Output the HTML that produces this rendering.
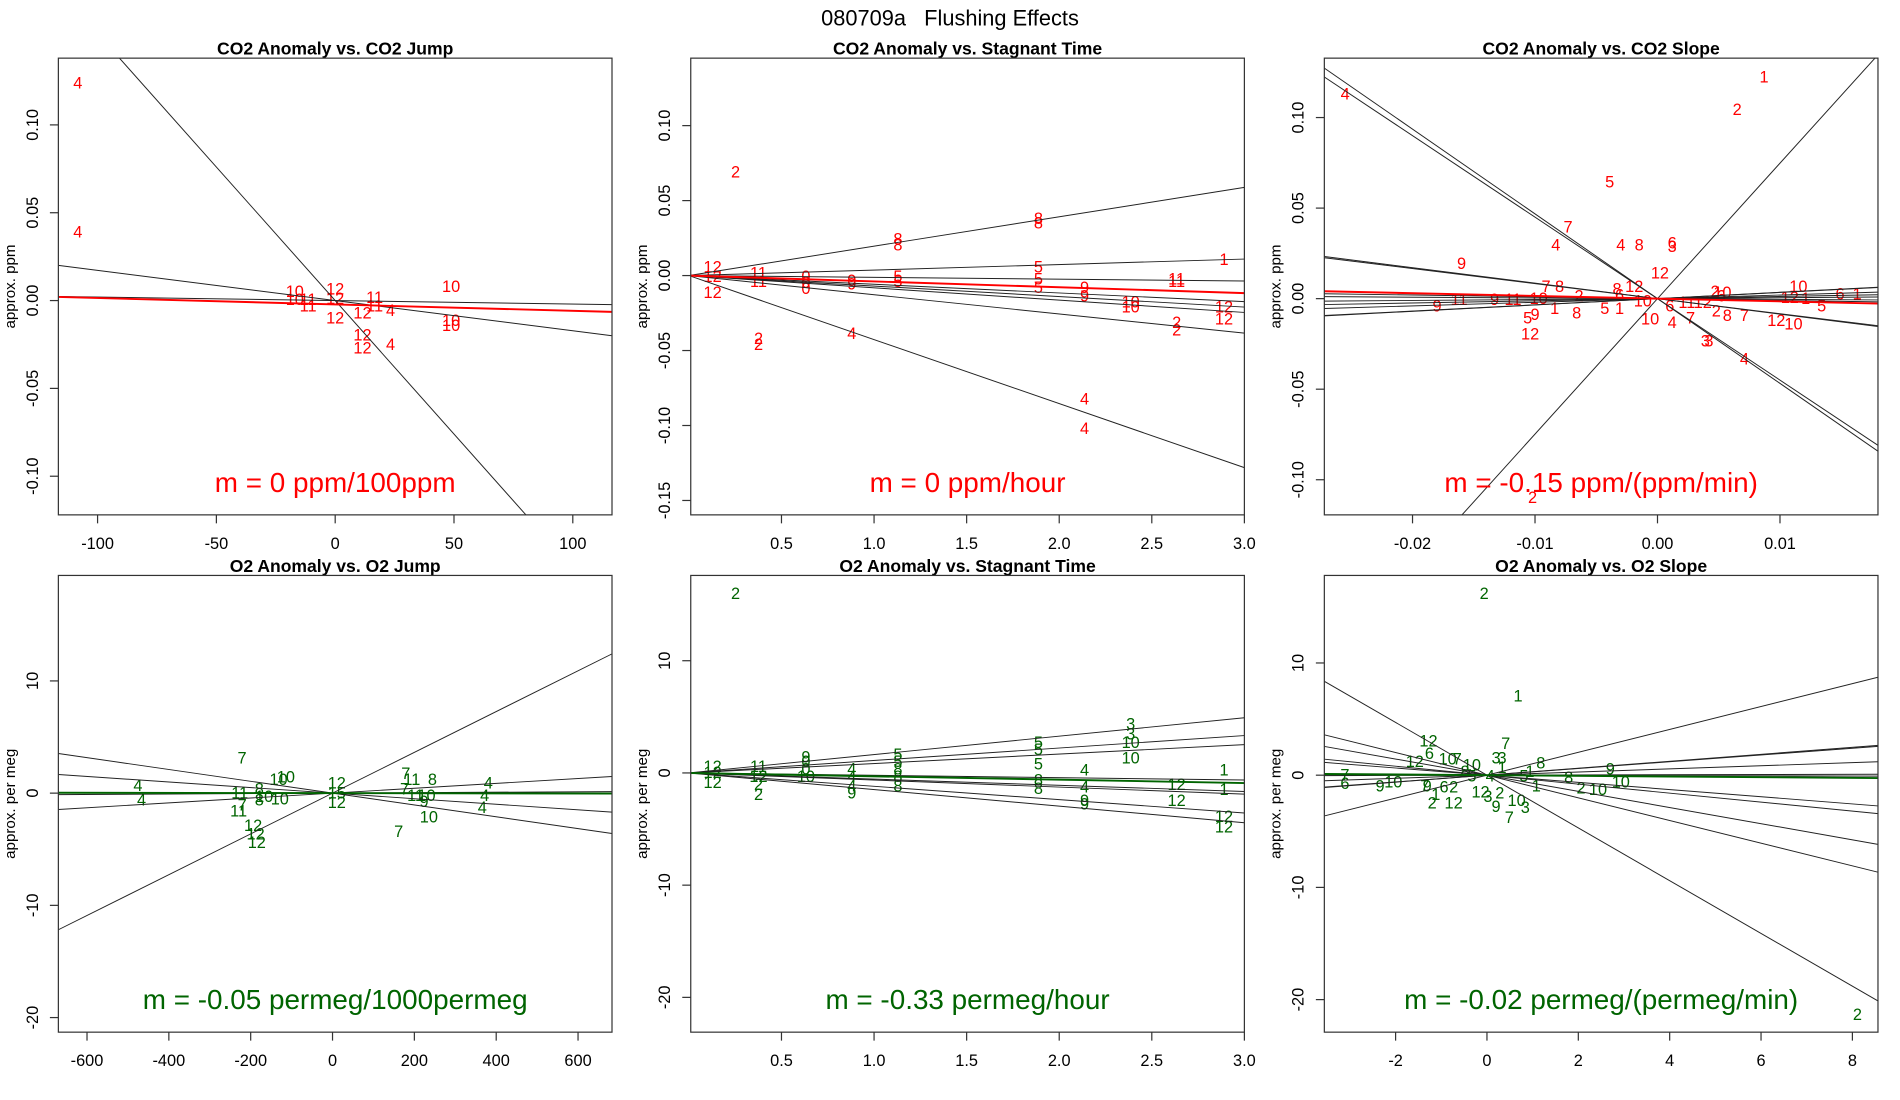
<!DOCTYPE html>
<html><head><meta charset="utf-8"><style>
html,body{margin:0;padding:0;background:#fff;}
svg{display:block;font-family:"Liberation Sans",sans-serif;}
</style></head><body>
<svg id="fig" width="1900" height="1100" viewBox="0 0 1568 908" xmlns="http://www.w3.org/2000/svg">
<rect width="1568" height="908" fill="#fff"/>
<text x="784" y="21" text-anchor="middle" font-size="18" style="white-space:pre">080709a   Flushing Effects</text>
</svg>
<script>
// ---------- Panel 1: CO2 anomaly vs CO2 jump ----------
const p1X=[-108.3,-108.3,-17,-17,-11.4,-11.4,0,0,0,16.6,16.6,11.5,11.5,11.5,23.3,23.3,48.8,48.8,48.8];
const p1Y=[0.1242,0.0394,0.0056,0.0008,0.0008,-0.0027,0.007,0.0015,-0.0096,0.0021,-0.0027,-0.0068,-0.0193,-0.0268,-0.0054,-0.0248,0.0083,-0.011,-0.0138];
const p1Lab=["4","4","10","10","11","11","12","12","12","11","11","12","12","12","4","4","10","10","10"];
const p1Slopes=[-0.00152,-0.000172,-0.00002];
const p1Fit=[-0.0022,-0.0000365];
const p1XTicks=[-100,-50,0,50,100];
const p1YTicks=[-0.10,-0.05,0.00,0.05,0.10];
const p1YTickLab=["-0.10","-0.05","0.00","0.05","0.10"];
// ---------- Panel 2: CO2 anomaly vs stagnant time ----------
const p2X=[0.252,0.128,0.128,0.128,0.376,0.376,0.376,0.376,0.632,0.632,0.632,0.88,0.88,0.88,1.129,1.129,1.129,1.129,1.888,1.888,1.888,1.888,1.888,2.137,2.137,2.137,2.137,2.386,2.386,2.634,2.634,2.89,2.634,2.634,2.89,2.89];
const p2Y=[0.0693,0.0061,-0.0003,-0.0108,-0.0416,-0.0456,0.0021,-0.0036,-0.0003,-0.0044,-0.0084,-0.0028,-0.0052,-0.0384,0.0248,0.0207,-0.0003,-0.0036,0.0385,0.0353,0.0061,-0.0019,-0.0076,-0.082,-0.1015,-0.0076,-0.0133,-0.0173,-0.0206,-0.0019,-0.0036,0.011,-0.031,-0.036,-0.0206,-0.0286];
const p2Lab=["2","12","12","12","2","2","11","11","0","0","0","9","9","4","8","8","5","5","8","8","5","5","5","4","4","9","9","10","10","11","11","1","2","2","12","12"];
const p2Slopes=[0.0196,0.00367,-0.0012,-0.0058,-0.007,-0.0082,-0.0128,-0.0427];
const p2Fit=[0,-0.0039];
const p2XTicks=[0.5,1.0,1.5,2.0,2.5,3.0];
const p2XTickLab=["0.5","1.0","1.5","2.0","2.5","3.0"];
const p2YTicks=[-0.15,-0.10,-0.05,0.00,0.05,0.10];
const p2YTickLab=["-0.15","-0.10","-0.05","0.00","0.05","0.10"];
// ---------- Panel 3: CO2 anomaly vs CO2 slope ----------
const p3X=[-0.0255,0.0087,0.0065,-0.0039,-0.0073,-0.0083,-0.003,-0.0015,0.0012,0.0012,-0.016,0.0002,-0.0091,-0.008,-0.0064,-0.0033,-0.0031,-0.0019,-0.018,-0.0162,-0.0133,-0.0118,-0.0097,-0.0106,-0.01,-0.0084,-0.0066,-0.0043,-0.0031,-0.0006,0.0012,0.0027,0.0039,0.0042,0.0048,0.0057,0.0071,0.0071,0.0097,0.0111,0.0047,0.0053,0.0052,0.0115,0.0108,0.0121,0.0149,0.0163,0.0134,-0.0104,-0.0102,0.0024,0.0037,-0.0012,0.001];
const p3Y=[0.1134,0.1227,0.1047,0.0646,0.0398,0.0298,0.0298,0.0298,0.0311,0.0291,0.0197,0.0144,0.007,0.007,0.0017,0.0057,0.0023,0.007,-0.0037,-0.0003,-0.0003,-0.0003,0.0003,-0.0104,-0.0084,-0.005,-0.0077,-0.005,-0.005,-0.011,-0.013,-0.0104,-0.0231,-0.0231,-0.0064,-0.009,-0.009,-0.0331,-0.0117,-0.0137,0.0043,0.0037,0.0017,0.007,0.001,0.0003,0.003,0.003,-0.0037,-0.0191,-0.1094,-0.0017,-0.0017,-0.001,-0.0037];
const p3Lab=["4","1","2","5","7","4","4","8","6","3","9","12","7","8","2","8","6","12","9","11","9","11","10","5","9","1","8","5","1","10","4","7","3","3","2","8","7","4","12","10","2","10","6","10","12","1","6","1","5","12","2","11","12","10","6"];
const p3Slopes=[7.48,-4.68,-4.5,-0.855,-0.83,0.343,0.35,0.12,0.2,-0.1,0.05,-0.04];
const p3Fit=[0,-0.15];
const p3XTicks=[-0.02,-0.01,0.00,0.01];
const p3XTickLab=["-0.02","-0.01","0.00","0.01"];
const p3YTicks=[-0.10,-0.05,0.00,0.05,0.10];
const p3YTickLab=["-0.10","-0.05","0.00","0.05","0.10"];
// ---------- Panel 4: O2 anomaly vs O2 jump ----------
const p4X=[-221,-475.6,-466.7,-226.7,-229.6,-220.7,-179,-179,-167,-131.9,-114,-128.9,-194,-188,-185,10.4,10.4,10.4,179,194,244,176,203,229.6,223.7,235.5,161.5,380.7,371.9,366];
const p4Y=[3.2,0.72,-0.57,0.08,-1.54,-1.0,0.4,-0.57,-0.25,1.26,1.48,-0.46,-2.84,-3.59,-4.35,0.94,-0.79,0.08,1.8,1.26,1.26,0.4,-0.14,-0.14,-0.68,-2.08,-3.38,0.94,-0.14,-1.22];
const p4Lab=["7","4","4","11","11","7","8","8","10","10","10","10","12","12","12","12","12","15","7","11","8","7","11","10","9","10","7","4","4","4"];
const p4Slopes=[0.01817,-0.00527,-0.00248,0.00217,0.0002];
const p4Fit=[0,-0.00005];
const p4XTicks=[-600,-400,-200,0,200,400,600];
const p4YTicks=[-20,-10,0,10];
// ---------- Panel 5: O2 anomaly vs stagnant time ----------
const p5X=[0.252,0.128,0.128,0.128,0.376,0.376,0.376,0.376,0.632,0.632,0.632,0.632,0.88,0.88,0.88,0.88,1.129,1.129,1.129,1.129,1.129,1.888,1.888,1.888,1.888,1.888,2.386,2.386,2.386,2.386,2.137,2.137,2.137,2.137,2.634,2.634,2.89,2.89,2.89,2.89];
const p5Y=[16.04,0.62,0.08,-0.79,0.62,-0.25,-1.0,-1.87,1.48,1.05,0.4,-0.25,0.4,-0.25,-1.11,-1.76,1.69,1.05,0.4,-0.25,-1.11,2.77,2.13,0.83,-0.57,-1.33,4.39,3.53,2.77,1.37,0.29,-1.22,-2.41,-2.73,-1.0,-2.41,0.29,-1.44,-3.81,-4.78];
const p5Lab=["2","12","12","12","11","12","2","2","9","0","0","10","4","4","4","9","5","5","8","8","8","5","5","5","8","8","3","3","10","10","4","4","9","9","12","12","1","1","12","12"];
const p5Slopes=[1.64,1.11,0.84,-0.21,-0.55,-0.63,-1.19,-1.48];
const p5Fit=[0,-0.30];
const p5XTicks=[0.5,1.0,1.5,2.0,2.5,3.0];
const p5XTickLab=["0.5","1.0","1.5","2.0","2.5","3.0"];
const p5YTicks=[-20,-10,0,10];
// ---------- Panel 6: O2 anomaly vs O2 slope ----------
const p6X=[-0.06,0.68,8.11,-1.28,-1.26,-1.58,-0.86,-0.65,-0.33,-3.11,-3.11,-2.34,-2.05,-1.36,-1.31,-0.94,-0.73,-1.12,-1.2,-0.73,0.2,0.33,0.41,0.33,1.18,2.7,2.93,1.79,2.06,2.43,-0.14,0.02,0.28,0.2,0.49,0.84,0.65,1.08,0.81,0.07,-0.33,-0.48,0.94];
const p6Y=[16.26,7.09,-21.29,3.1,2.0,1.26,1.48,1.48,0.94,0.08,-0.68,-0.9,-0.57,-0.9,-0.9,-1.0,-1.0,-1.65,-2.41,-2.41,1.59,1.59,2.88,0.72,1.15,0.62,-0.57,-0.14,-1.11,-1.22,-1.44,-1.87,-1.54,-2.73,-3.7,-2.84,-2.19,-0.9,-0.03,-0.03,-0.03,0.4,0.4];
const p6Lab=["2","1","2","12","6","12","10","7","10","7","6","9","10","7","9","6","2","1","2","12","3","3","7","1","8","9","10","8","2","10","12","3","2","9","7","3","10","1","5","4","5","8","1"];
const p6Slopes=[1.02,0.31,0.3,0.14,0.01,-0.01,-0.32,-0.4,-0.72,-1.01,-2.35];
const p6Fit=[0,-0.03];
const p6XTicks=[-2,0,2,4,6,8];
const p6YTicks=[-20,-10,0,10];

const NS="http://www.w3.org/2000/svg";
const svg=document.getElementById('fig');
function mk(tag,attrs,parent){const e=document.createElementNS(NS,tag);for(const k in attrs)e.setAttribute(k,attrs[k]);(parent||svg).appendChild(e);return e;}

function panel(cfg){
  const {id,L,T,W,H,xd,yd}=cfg;
  const sx=v=>L+(v-xd[0])/(xd[1]-xd[0])*W;
  const sy=v=>T+(yd[1]-v)/(yd[1]-yd[0])*H;
  const g=mk('g',{});
  
  
  const cp=mk('clipPath',{id:'clip-'+id},g);
  mk('rect',{x:L,y:T,width:W,height:H},cp);
  const t=mk('text',{x:L+W/2,y:T-3,'text-anchor':'middle','font-size':14.5,'font-weight':'bold'},g);
  t.textContent=cfg.title;
  
  
  const yl=mk('text',{x:0,y:0,'text-anchor':'middle','font-size':12.5,transform:`translate(${L-36},${T+H/2}) rotate(-90)`},g);
  yl.textContent=cfg.ylab;
  
  
  cfg.xt.forEach((v,i)=>{
    const x=sx(v);
    const tk=mk('line',{x1:x,x2:x,y1:T+H,y2:T+H+7,stroke:'#333','stroke-width':1},g);
    
    
    const tl=mk('text',{x:x,y:T+H+28,'text-anchor':'middle','font-size':13.5},g);
    tl.textContent=cfg.xtl?cfg.xtl[i]:String(v);
    
    
  });
  cfg.yt.forEach((v,i)=>{
    const y=sy(v);
    const tk=mk('line',{x1:L-7,x2:L,y1:y,y2:y,stroke:'#333','stroke-width':1},g);
    
    
    const tl=mk('text',{x:0,y:0,'text-anchor':'middle','font-size':13.5,transform:`translate(${L-17},${y}) rotate(-90)`},g);
    tl.textContent=cfg.ytl?cfg.ytl[i]:String(v);
    
    
  });
  const inner=mk('g',{'clip-path':`url(#clip-${id})`},g);
  cfg.px.forEach((v,i)=>{
    const p=mk('text',{x:sx(v),y:sy(cfg.py[i])+5,'text-anchor':'middle','font-size':13.5,fill:cfg.col},inner);
    p.textContent=cfg.lab[i];
    
    
  });
  cfg.slopes.forEach(m=>{
    const ln=mk('line',{x1:sx(xd[0]),y1:sy(m*xd[0]),x2:sx(xd[1]),y2:sy(m*xd[1]),stroke:'#222','stroke-width':0.8},inner);
    
    
  });
  const f=cfg.fit;
  const fl=mk('line',{x1:sx(xd[0]),y1:sy(f[0]+f[1]*xd[0]),x2:sx(xd[1]),y2:sy(f[0]+f[1]*xd[1]),stroke:cfg.col,'stroke-width':1.6},inner);
  
  
  const an=mk('text',{x:L+W/2,y:T+H-19,'text-anchor':'middle','font-size':23,fill:cfg.col},g);
  an.textContent=cfg.ann;
  
  
  const box=mk('rect',{x:L,y:T,width:W,height:H,fill:'none',stroke:'#333','stroke-width':1},g);
  
  
}
const RED='#ff0000',GRN='#006400';
panel({id:'co2-jump',L:48,T:48,W:457,H:377,xd:[-116.5,116.5],yd:[-0.122,0.138],title:'CO2 Anomaly vs. CO2 Jump',ylab:'approx. ppm',xt:p1XTicks,yt:p1YTicks,ytl:p1YTickLab,px:p1X,py:p1Y,lab:p1Lab,slopes:p1Slopes,fit:p1Fit,col:RED,ann:'m = 0 ppm/100ppm'});
panel({id:'co2-stagnant',L:570,T:48,W:457,H:377,xd:[0.01,3.0],yd:[-0.1596,0.145],title:'CO2 Anomaly vs. Stagnant Time',ylab:'approx. ppm',xt:p2XTicks,xtl:p2XTickLab,yt:p2YTicks,ytl:p2YTickLab,px:p2X,py:p2Y,lab:p2Lab,slopes:p2Slopes,fit:p2Fit,col:RED,ann:'m = 0 ppm/hour'});
panel({id:'co2-slope',L:1093,T:48,W:457,H:377,xd:[-0.0272,0.0180],yd:[-0.1194,0.1328],title:'CO2 Anomaly vs. CO2 Slope',ylab:'approx. ppm',xt:p3XTicks,xtl:p3XTickLab,yt:p3YTicks,ytl:p3YTickLab,px:p3X,py:p3Y,lab:p3Lab,slopes:p3Slopes,fit:p3Fit,col:RED,ann:'m = -0.15 ppm/(ppm/min)'});
panel({id:'o2-jump',L:48,T:475,W:457,H:377,xd:[-670,683],yd:[-21.3,19.4],title:'O2 Anomaly vs. O2 Jump',ylab:'approx. per meg',xt:p4XTicks,yt:p4YTicks,px:p4X,py:p4Y,lab:p4Lab,slopes:p4Slopes,fit:p4Fit,col:GRN,ann:'m = -0.05 permeg/1000permeg'});
panel({id:'o2-stagnant',L:570,T:475,W:457,H:377,xd:[0.01,3.0],yd:[-23.1,17.6],title:'O2 Anomaly vs. Stagnant Time',ylab:'approx. per meg',xt:p5XTicks,xtl:p5XTickLab,yt:p5YTicks,px:p5X,py:p5Y,lab:p5Lab,slopes:p5Slopes,fit:p5Fit,col:GRN,ann:'m = -0.33 permeg/hour'});
panel({id:'o2-slope',L:1093,T:475,W:457,H:377,xd:[-3.56,8.56],yd:[-22.9,17.8],title:'O2 Anomaly vs. O2 Slope',ylab:'approx. per meg',xt:p6XTicks,yt:p6YTicks,px:p6X,py:p6Y,lab:p6Lab,slopes:p6Slopes,fit:p6Fit,col:GRN,ann:'m = -0.02 permeg/(permeg/min)'});
</script>
</body></html>
